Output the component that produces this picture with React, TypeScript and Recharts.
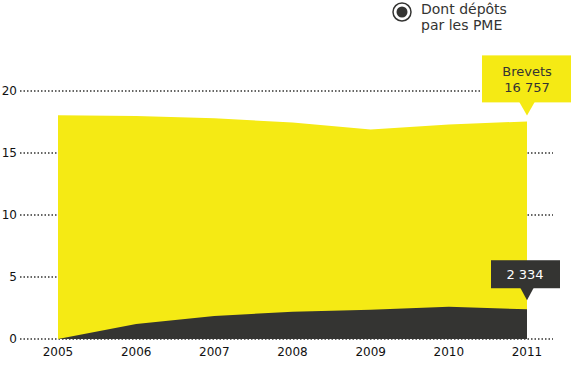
import { AreaChart, Area, XAxis, YAxis, CartesianGrid, LabelList } from "recharts";

const years = ["2005", "2006", "2007", "2008", "2009", "2010", "2011"];
const brevets = [18.05, 17.98, 17.8, 17.45, 16.9, 17.3, 17.55];
const pme = [0, 1.2, 1.85, 2.2, 2.35, 2.6, 2.4];
const yTicks = [0, 5, 10, 15, 20];
const brevetsLabel = ["Brevets", "16 757"];
const pmeLabel = "2 334";
const legendLabel = ["Dont dépôts", "par les PME"];

const YELLOW = "#f5ea14";
const DARK = "#343432";
const FONT = "'DejaVu Sans', sans-serif";

const data = years.map((year, i) => ({ year, brevets: brevets[i], pme: pme[i] }));
const last = years.length - 1;

const BrevetsCallout = (props: any) => {
  const { x, y, index } = props;
  if (index !== last) return null;
  const top = y - 66;
  return (
    <g>
      <rect x={x - 45} y={top} width={92} height={47} fill={YELLOW} />
      <polygon points={`${x - 8},${top + 46} ${x + 8},${top + 46} ${x},${y - 6}`} fill={YELLOW} />
      <text x={x} y={top + 21} textAnchor="middle" fontSize={13} fill={DARK} fontFamily={FONT}>
        {brevetsLabel[0]}
      </text>
      <text x={x} y={top + 37} textAnchor="middle" fontSize={13} fill={DARK} fontFamily={FONT}>
        {brevetsLabel[1]}
      </text>
    </g>
  );
};

const PmeCallout = (props: any) => {
  const { x, y, index } = props;
  if (index !== last) return null;
  const top = y - 49;
  return (
    <g>
      <rect x={x - 36} y={top} width={69} height={28} fill={DARK} />
      <polygon points={`${x - 7},${top + 27} ${x + 7},${top + 27} ${x},${y - 9}`} fill={DARK} />
      <text x={x - 2} y={top + 19} textAnchor="middle" fontSize={13} fill="#fff" fontFamily={FONT}>
        {pmeLabel}
      </text>
    </g>
  );
};

export default function App() {
  return (
    <div style={{ position: "fixed", left: 0, top: 0, width: 571, height: 365, background: "#fff" }}>
      <div
        style={{
          position: "absolute",
          left: 391,
          top: 1,
          display: "flex",
          alignItems: "flex-start",
          fontFamily: FONT,
          color: DARK,
        }}
      >
        <svg width={22} height={22}>
          <circle cx={11} cy={11} r={9} fill="#fff" stroke={DARK} strokeWidth={1.5} />
          <circle cx={11} cy={11} r={5.5} fill={DARK} />
        </svg>
        <div style={{ marginLeft: 8, fontSize: 14, lineHeight: "16px" }}>
          <div>{legendLabel[0]}</div>
          <div>{legendLabel[1]}</div>
        </div>
      </div>
      <AreaChart width={571} height={365} data={data} margin={{ top: 91, right: 18, bottom: 0, left: 0 }}>
        <CartesianGrid vertical={false} stroke={DARK} strokeDasharray="1.5 2" strokeWidth={1.5} />
        <XAxis
          dataKey="year"
          padding={{ left: 38, right: 26 }}
          axisLine={false}
          tickLine={false}
          height={26}
          tick={{ fontSize: 12, fill: "#111", fontFamily: FONT }}
          tickMargin={2}
          interval={0}
        />
        <YAxis
          width={20}
          domain={[0, 20]}
          ticks={yTicks}
          axisLine={false}
          tickLine={false}
          tickSize={3}
          tickMargin={0}
          tick={{ fontSize: 12, fill: "#111", fontFamily: FONT }}
        />
        <Area type="linear" dataKey="brevets" stroke="none" fill={YELLOW} fillOpacity={1} isAnimationActive={false}>
          <LabelList dataKey="brevets" content={BrevetsCallout} />
        </Area>
        <Area type="linear" dataKey="pme" stroke="none" fill={DARK} fillOpacity={1} isAnimationActive={false}>
          <LabelList dataKey="pme" content={PmeCallout} />
        </Area>
      </AreaChart>
    </div>
  );
}
